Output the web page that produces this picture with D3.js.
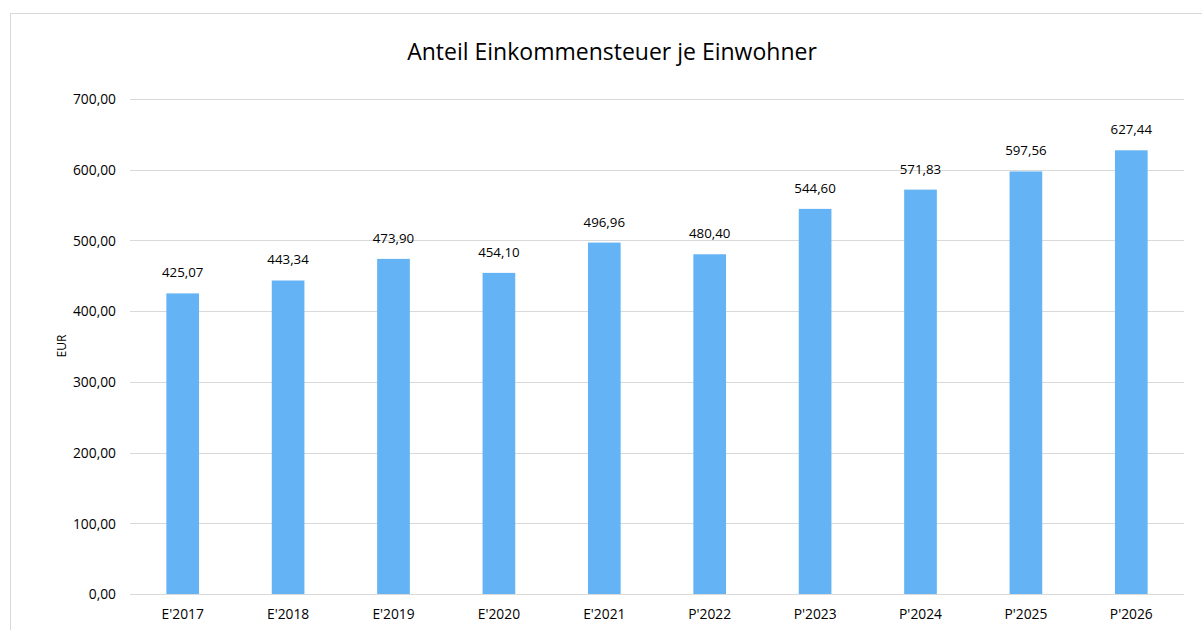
<!DOCTYPE html>
<html><head><meta charset="utf-8">
<script src="https://cdn.jsdelivr.net/npm/d3@7"></script>
<style>
html,body{margin:0;padding:0;background:#fff;}
svg{display:block;}
text{font-family:"Open Sans","Noto Sans",sans-serif;fill:#000;}
</style></head>
<body>
<svg id="chart" width="1202" height="630"></svg>
<script>
const categories = ["E'2017","E'2018","E'2019","E'2020","E'2021","P'2022","P'2023","P'2024","P'2025","P'2026"];
const values = [425.07,443.34,473.90,454.10,496.96,480.40,544.60,571.83,597.56,627.44];
const yTicks = [0,100,200,300,400,500,600,700];
const title = "Anteil Einkommensteuer je Einwohner";
const yTitle = "EUR";

(function(){
const svg = d3.select("#chart");
const fmt = v => d3.format(".2f")(v).replace(".", ",");

svg.append("rect").attr("x",10.5).attr("y",13.5).attr("width",1210).attr("height",640)
  .attr("fill","#fff").attr("stroke","#d9d9d9").attr("stroke-width",1);

const pL = 130, pR = 1184, pT = 99, pB = 594;
const x = d3.scaleBand().domain(categories).range([pL,pR]).paddingInner(0.69).paddingOuter(0.345);
const y = d3.scaleLinear().domain([0,700]).range([pB,pT]);

svg.append("g").selectAll("line").data(yTicks).join("line")
  .attr("x1",pL).attr("x2",pR)
  .attr("y1",d=>Math.round(y(d))+0.5).attr("y2",d=>Math.round(y(d))+0.5)
  .attr("stroke","#d9d9d9").attr("stroke-width",1);

const yAxis = d3.axisLeft(y).tickValues(yTicks).tickFormat(fmt).tickSize(0).tickPadding(0);
const gy = svg.append("g").attr("transform",`translate(${pL-14},0)`).call(yAxis);
gy.select(".domain").remove();
gy.selectAll("text").attr("font-size",13.8).attr("font-family","'Open Sans','Noto Sans',sans-serif").attr("fill","#000").attr("dy","0.35em");

const xAxis = d3.axisBottom(x).tickSize(0).tickPadding(0);
const gx = svg.append("g").attr("transform",`translate(0,${pB+15})`).call(xAxis);
gx.select(".domain").remove();
gx.selectAll("text").attr("font-size",13.8).attr("font-family","'Open Sans','Noto Sans',sans-serif").attr("fill","#000").attr("dy","0.71em");

svg.append("g").selectAll("rect").data(values).join("rect")
  .attr("x",(d,i)=>x(categories[i])).attr("width",x.bandwidth())
  .attr("y",d=>y(d)).attr("height",d=>pB-y(d))
  .attr("fill","#63b3f5");

svg.append("g").selectAll("text").data(values).join("text")
  .attr("x",(d,i)=>x(categories[i])+x.bandwidth()/2)
  .attr("y",d=>y(d)-16)
  .attr("text-anchor","middle").attr("font-size",13.3)
  .text(d=>fmt(d));

svg.append("text").attr("x",612).attr("y",60).attr("text-anchor","middle")
  .attr("font-size",23).text(title);

svg.append("text").attr("transform",`translate(66,346) rotate(-90)`)
  .attr("text-anchor","middle").attr("font-size",12).text(yTitle);
})();
</script>
</body></html>
